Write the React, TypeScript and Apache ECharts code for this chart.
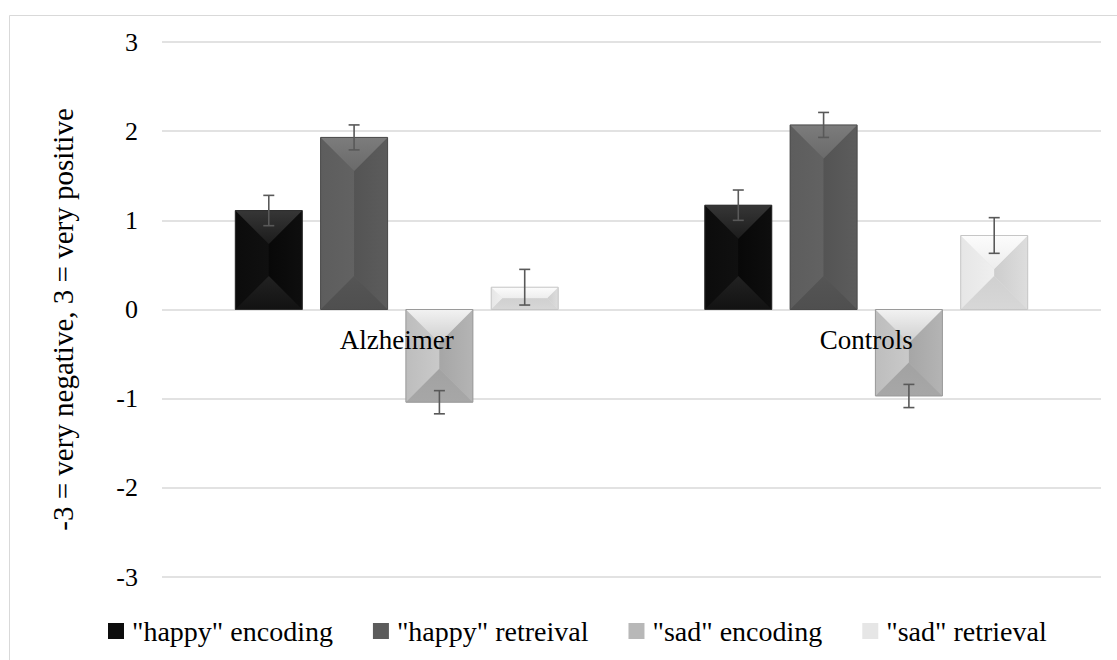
import React, { useEffect, useRef } from "react";
import * as echarts from "echarts";

// ---- data ----
const categories = ["Alzheimer", "Controls"];
const seriesNames = ['"happy" encoding', '"happy" retreival', '"sad" encoding', '"sad" retrieval'];
const happyEncoding = [1.11, 1.17];
const happyEncodingErr = [0.17, 0.17];
const happyRetrieval = [1.93, 2.07];
const happyRetrievalErr = [0.14, 0.14];
const sadEncoding = [-1.04, -0.97];
const sadEncodingErr = [0.13, 0.13];
const sadRetrieval = [0.25, 0.83];
const sadRetrievalErr = [0.2, 0.2];
const yMin = -3;
const yMax = 3;
const yStep = 1;
const yTitle = "-3 = very negative, 3 = very positive";

const seriesValues = [happyEncoding, happyRetrieval, sadEncoding, sadRetrieval];
const seriesErrors = [happyEncodingErr, happyRetrievalErr, sadEncodingErr, sadRetrievalErr];

// ---- styles (bevelled faces) ----
type Pal = { base: string; top: [string, string]; left: [string, string]; right: [string, string]; bottom: [string, string]; center: string; edge: string };
const palettes: Pal[] = [
  { base: "#0d0d0d", top: ["#363636", "#1c1c1c"], left: ["#0c0c0c", "#101010"], right: ["#0e0e0e", "#080808"], bottom: ["#121212", "#222222"], center: "#0b0b0b", edge: "#2e2e2e" },
  { base: "#5c5c5c", top: ["#7c7c7c", "#6a6a6a"], left: ["#5d5d5d", "#626262"], right: ["#5c5c5c", "#545454"], bottom: ["#4f4f4f", "#555555"], center: "#5b5b5b", edge: "#4a4a4a" },
  { base: "#b8b8b8", top: ["#f2f2f2", "#cdcdcd"], left: ["#bdbdbd", "#c9c9c9"], right: ["#b4b4b4", "#a6a6a6"], bottom: ["#a7a7a7", "#a2a2a2"], center: "#bcbcbc", edge: "#9a9a9a" },
  { base: "#e6e6e6", top: ["#fcfcfc", "#ededed"], left: ["#e6e6e6", "#efefef"], right: ["#dddddd", "#cdcdcd"], bottom: ["#d7d7d7", "#d0d0d0"], center: "#e4e4e4", edge: "#c6c6c6" },
];

const FONT = "Times New Roman, Liberation Serif, serif";
const BAR_W = 0.1427;
const BAR_STEP = 0.1817;

function grad(x0: number, y0: number, x1: number, y1: number, c: [string, string]) {
  return new echarts.graphic.LinearGradient(x0, y0, x1, y1, [
    { offset: 0, color: c[0] },
    { offset: 1, color: c[1] },
  ]);
}

function makeRenderItem(k: number) {
  const pal = palettes[k];
  return (params: any, api: any) => {
    const idx = api.value(0);
    const v = api.value(1);
    const e = api.value(2);
    const base = api.coord([idx, 0]);
    const tip = api.coord([idx, v]);
    const band = api.size([1, 0])[0];
    const cx = base[0] + (k - 1.5) * BAR_STEP * band;
    const bw = BAR_W * band;
    const x0 = cx - bw / 2;
    const x1 = cx + bw / 2;
    const ya = Math.min(base[1], tip[1]);
    const yb = Math.max(base[1], tip[1]);
    const h = yb - ya;
    const d = Math.min(bw, h) / 2;
    const face = (pts: number[][], fill: any) => ({
      type: "polygon",
      shape: { points: pts },
      style: { fill, stroke: null },
    });
    const hi = api.coord([idx, v + e])[1];
    const lo = api.coord([idx, v - e])[1];
    const cap = 5.5;
    const errStyle = { stroke: "#595959", lineWidth: 1.6 };
    return {
      type: "group",
      children: [
        { type: "rect", shape: { x: x0, y: ya, width: bw, height: h }, style: { fill: pal.center } },
        face([[x0, ya], [x0 + d, ya + d], [x0 + d, yb - d], [x0, yb]], grad(0, 0, 1, 0, pal.left)),
        face([[x1, ya], [x1 - d, ya + d], [x1 - d, yb - d], [x1, yb]], grad(1, 0, 0, 0, pal.right)),
        face([[x0, ya], [x1, ya], [x1 - d, ya + d], [x0 + d, ya + d]], grad(0, 0, 0, 1, pal.top)),
        face([[x0, yb], [x1, yb], [x1 - d, yb - d], [x0 + d, yb - d]], grad(0, 1, 0, 0, pal.bottom)),
        { type: "rect", shape: { x: x0, y: ya, width: bw, height: h }, style: { fill: null, stroke: pal.edge, lineWidth: 1 } },
        { type: "line", shape: { x1: cx, y1: hi, x2: cx, y2: lo }, style: errStyle },
        { type: "line", shape: { x1: cx - cap, y1: hi, x2: cx + cap, y2: hi }, style: errStyle },
        { type: "line", shape: { x1: cx - cap, y1: lo, x2: cx + cap, y2: lo }, style: errStyle },
      ],
    };
  };
}

function renderCategoryLabel(params: any, api: any) {
  const idx = api.value(0);
  const p = api.coord([idx, 0]);
  return {
    type: "text",
    x: p[0],
    y: p[1] + 17,
    style: {
      text: categories[idx],
      fontFamily: FONT,
      fontSize: 27,
      fill: "#000",
      align: "center",
      verticalAlign: "top",
    },
  };
}

export default function App() {
  const ref = useRef<HTMLDivElement>(null);
  useEffect(() => {
    document.body.style.margin = "0";
    if (!ref.current) return;
    const chart = echarts.init(ref.current, null, { renderer: "svg" });
    const series: any[] = seriesNames.map((name, k) => ({
      name,
      type: "custom",
      renderItem: makeRenderItem(k),
      itemStyle: { color: palettes[k].base },
      encode: { x: 0, y: 1 },
      data: categories.map((_, i) => [i, seriesValues[k][i], seriesErrors[k][i]]),
      z: 2,
    }));
    series.push({
      name: "categoryLabels",
      type: "custom",
      renderItem: renderCategoryLabel,
      encode: { x: 0, y: 1 },
      data: categories.map((_, i) => [i, 0]),
      silent: true,
      z: 10,
    });
    chart.setOption({
      animation: false,
      backgroundColor: "#ffffff",
      graphic: [
        {
          type: "rect",
          silent: true,
          z: -10,
          shape: { x: 9.5, y: 15.5, width: 1200, height: 700 },
          style: { fill: "none", stroke: "#d9d9d9", lineWidth: 1 },
        },
      ],
      grid: { left: 162, right: 16, top: 42, bottom: 83, containLabel: false },
      legend: {
        left: 103,
        top: 612,
        icon: "rect",
        itemWidth: 16,
        itemHeight: 16,
        itemGap: 40,
        data: seriesNames,
        textStyle: { fontFamily: FONT, fontSize: 28, color: "#000", padding: [0, 0, 0, 3] },
      },
      xAxis: {
        type: "category",
        data: categories,
        axisLine: { show: false },
        axisTick: { show: false },
        axisLabel: { show: false },
        splitLine: { show: false },
      },
      yAxis: {
        type: "value",
        min: yMin,
        max: yMax,
        interval: yStep,
        name: yTitle,
        nameLocation: "middle",
        nameGap: 85,
        nameTextStyle: { fontFamily: FONT, fontSize: 29, color: "#000", padding: [0, 20, 0, 0] },
        axisLine: { show: false },
        axisTick: { show: false },
        axisLabel: { margin: 24, fontFamily: FONT, fontSize: 26, color: "#000" },
        splitLine: { lineStyle: { color: "#d9d9d9", width: 1.5 } },
      },
      series,
    });
    return () => chart.dispose();
  }, []);
  return <div ref={ref} style={{ width: 1117, height: 660 }} />;
}
